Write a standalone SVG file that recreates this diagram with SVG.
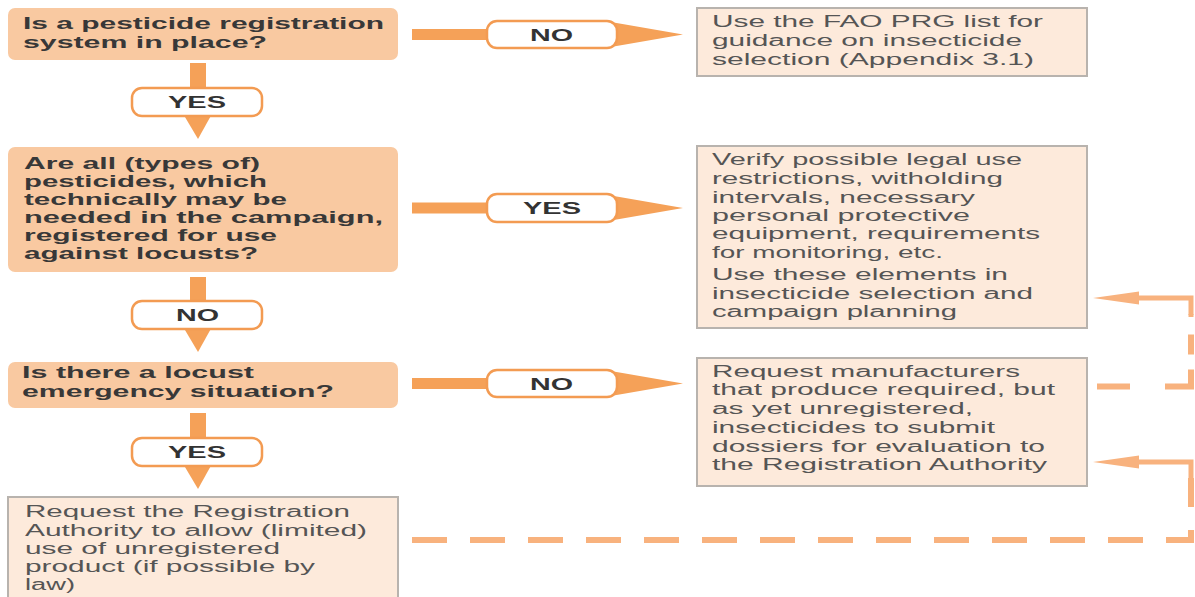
<svg xmlns="http://www.w3.org/2000/svg" width="1195" height="597" viewBox="0 0 1195 597">
<style>
.dec{fill:#f9c9a1;}
.act{fill:#fdeadb;stroke:#b8b3ae;stroke-width:2;}
.tb{font-family:"Liberation Sans",Arial,sans-serif;font-weight:bold;font-size:17px;fill:#383838;}
.tr{font-family:"Liberation Sans",Arial,sans-serif;font-size:16px;fill:#555555;}
.bar{fill:#f5a158;}
.pill{fill:#ffffff;stroke:#f39b52;stroke-width:2.5;}
.lbl{font-family:"Liberation Sans",Arial,sans-serif;font-weight:bold;font-size:17px;fill:#333333;}
.dash{fill:none;stroke:#f8b27e;stroke-width:6;stroke-dasharray:35 23;}
.dashb{fill:none;stroke:#f8b27e;stroke-width:6;stroke-dasharray:33 35 43 15 20 20;}
.solid{fill:none;stroke:#f8b27e;stroke-width:5;}
</style>
<defs>
<marker id="ah" markerUnits="userSpaceOnUse" markerWidth="50" markerHeight="16" refX="1" refY="8" orient="auto" overflow="visible">
<path d="M0,1.5 L46,8 L0,14.5 Z" fill="#f8b27e"/>
</marker>
</defs>
<rect width="1195" height="597" fill="#ffffff"/>

<g id="connectors">
<!-- Q1 NO -->
<rect class="bar" x="412" y="29" width="80" height="11"/>
<polygon class="bar" points="608,21.5 683,34.5 608,47.5"/>
<rect class="pill" x="487" y="21" width="130" height="27" rx="10"/>
<text class="lbl" x="530" y="40.5" textLength="43" lengthAdjust="spacingAndGlyphs">NO</text>
<!-- Q1 YES -->
<rect class="bar" x="190" y="63" width="16" height="30"/>
<polygon class="bar" points="182,112 213,112 198,139"/>
<rect class="pill" x="132" y="88" width="130" height="28" rx="10"/>
<text class="lbl" x="168" y="108" textLength="58" lengthAdjust="spacingAndGlyphs">YES</text>
<!-- Q2 YES -->
<rect class="bar" x="412" y="202.5" width="80" height="11"/>
<polygon class="bar" points="608,195 683,208 608,221"/>
<rect class="pill" x="487" y="194" width="130" height="28" rx="10"/>
<text class="lbl" x="523" y="214" textLength="58" lengthAdjust="spacingAndGlyphs">YES</text>
<!-- Q2 NO -->
<rect class="bar" x="190" y="277" width="16" height="29"/>
<polygon class="bar" points="182,325 213,325 198,352"/>
<rect class="pill" x="132" y="301" width="130" height="28" rx="10"/>
<text class="lbl" x="176" y="321" textLength="43" lengthAdjust="spacingAndGlyphs">NO</text>
<!-- Q3 NO -->
<rect class="bar" x="412" y="378" width="80" height="11"/>
<polygon class="bar" points="608,370.5 683,383.5 608,396.5"/>
<rect class="pill" x="487" y="370" width="130" height="27" rx="10"/>
<text class="lbl" x="530" y="390" textLength="43" lengthAdjust="spacingAndGlyphs">NO</text>
<!-- Q3 YES -->
<rect class="bar" x="190" y="413" width="16" height="30"/>
<polygon class="bar" points="182,462 213,462 198,489"/>
<rect class="pill" x="132" y="438" width="130" height="28" rx="10"/>
<text class="lbl" x="168" y="458" textLength="58" lengthAdjust="spacingAndGlyphs">YES</text>
<!-- dashed feedback: box4 -> R3 -->
<path class="dash" d="M412,540 H1191 V478"/>
<path class="solid" d="M1191,484 V462 H1138" marker-end="url(#ah)"/>
<!-- dashed feedback: R3 -> R2 -->
<path class="dashb" d="M1097,386.5 H1191 V314"/>
<path class="solid" d="M1191,317 V298 H1138" marker-end="url(#ah)"/>
</g>

<g id="q1">
<rect class="dec" x="8" y="8" width="390" height="52" rx="7"/>
<text class="tb" x="23" y="29" textLength="361" lengthAdjust="spacingAndGlyphs">Is a pesticide registration</text>
<text class="tb" x="23" y="48" textLength="244" lengthAdjust="spacingAndGlyphs">system in place?</text>
</g>

<g id="a1">
<rect class="act" x="697" y="8" width="390" height="68"/>
<text class="tr" x="712" y="27" textLength="331" lengthAdjust="spacingAndGlyphs">Use the FAO PRG list for</text>
<text class="tr" x="712" y="46" textLength="310" lengthAdjust="spacingAndGlyphs">guidance on insecticide</text>
<text class="tr" x="712" y="65" textLength="322" lengthAdjust="spacingAndGlyphs">selection (Appendix 3.1)</text>
</g>

<g id="q2">
<rect class="dec" x="8" y="147" width="390" height="125" rx="7"/>
<text class="tb" x="24" y="169" textLength="236" lengthAdjust="spacingAndGlyphs">Are all (types of)</text>
<text class="tb" x="24" y="187" textLength="243" lengthAdjust="spacingAndGlyphs">pesticides, which</text>
<text class="tb" x="24" y="205" textLength="263" lengthAdjust="spacingAndGlyphs">technically may be</text>
<text class="tb" x="24" y="223" textLength="359" lengthAdjust="spacingAndGlyphs">needed in the campaign,</text>
<text class="tb" x="24" y="241" textLength="253" lengthAdjust="spacingAndGlyphs">registered for use</text>
<text class="tb" x="24" y="259" textLength="234" lengthAdjust="spacingAndGlyphs">against locusts?</text>
</g>

<g id="a2">
<rect class="act" x="697" y="146" width="390" height="182"/>
<text class="tr" x="712" y="165" textLength="310" lengthAdjust="spacingAndGlyphs">Verify possible legal use</text>
<text class="tr" x="712" y="184" textLength="291" lengthAdjust="spacingAndGlyphs">restrictions, witholding</text>
<text class="tr" x="712" y="203" textLength="263" lengthAdjust="spacingAndGlyphs">intervals, necessary</text>
<text class="tr" x="712" y="221" textLength="258" lengthAdjust="spacingAndGlyphs">personal protective</text>
<text class="tr" x="712" y="239" textLength="328" lengthAdjust="spacingAndGlyphs">equipment, requirements</text>
<text class="tr" x="712" y="258" textLength="231" lengthAdjust="spacingAndGlyphs">for monitoring, etc.</text>
<text class="tr" x="712" y="280" textLength="296" lengthAdjust="spacingAndGlyphs">Use these elements in</text>
<text class="tr" x="712" y="299" textLength="321" lengthAdjust="spacingAndGlyphs">insecticide selection and</text>
<text class="tr" x="712" y="317" textLength="245" lengthAdjust="spacingAndGlyphs">campaign planning</text>
</g>

<g id="q3">
<rect class="dec" x="8" y="362" width="390" height="46" rx="7"/>
<text class="tb" x="22" y="378" textLength="232" lengthAdjust="spacingAndGlyphs">Is there a locust</text>
<text class="tb" x="22" y="397" textLength="312" lengthAdjust="spacingAndGlyphs">emergency situation?</text>
</g>

<g id="a3">
<rect class="act" x="697" y="358" width="390" height="128"/>
<text class="tr" x="712" y="376.5" textLength="308" lengthAdjust="spacingAndGlyphs">Request manufacturers</text>
<text class="tr" x="712" y="395" textLength="343" lengthAdjust="spacingAndGlyphs">that produce required, but</text>
<text class="tr" x="712" y="414" textLength="261" lengthAdjust="spacingAndGlyphs">as yet unregistered,</text>
<text class="tr" x="712" y="433" textLength="283" lengthAdjust="spacingAndGlyphs">insecticides to submit</text>
<text class="tr" x="712" y="451.5" textLength="333" lengthAdjust="spacingAndGlyphs">dossiers for evaluation to</text>
<text class="tr" x="712" y="470" textLength="335" lengthAdjust="spacingAndGlyphs">the Registration Authority</text>
</g>

<g id="a4">
<rect class="act" x="8" y="497" width="390" height="112"/>
<text class="tr" x="25" y="517" textLength="325" lengthAdjust="spacingAndGlyphs">Request the Registration</text>
<text class="tr" x="25" y="536" textLength="342" lengthAdjust="spacingAndGlyphs">Authority to allow (limited)</text>
<text class="tr" x="25" y="554" textLength="255" lengthAdjust="spacingAndGlyphs">use of unregistered</text>
<text class="tr" x="25" y="572" textLength="290" lengthAdjust="spacingAndGlyphs">product (if possible by</text>
<text class="tr" x="25" y="590" textLength="50" lengthAdjust="spacingAndGlyphs">law)</text>
</g>
</svg>
